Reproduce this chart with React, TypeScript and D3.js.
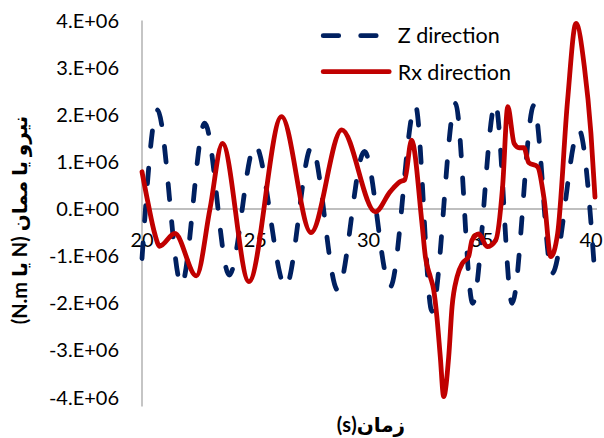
import React from "react";
import * as d3 from "d3";

const zTime = [20.0, 20.68, 21.74, 22.77, 23.85, 24.99, 26.34, 27.49, 28.64, 29.82, 30.96, 32.07, 32.8, 33.84, 34.6, 35.6, 36.34, 37.3, 38.1, 39.29, 40.0];
const zValue = [-1.05, 2.1, -1.61, 1.82, -1.4, 1.36, -1.65, 1.32, -1.72, 1.22, -1.65, 2.2, -2.17, 2.24, -2.0, 2.24, -2.0, 2.2, -1.37, 1.68, -1.44];

const rxTime = [20.0, 20.27, 20.56, 20.78, 21.45, 22.4, 23.0, 23.55, 24.72, 26.16, 27.46, 28.82, 30.3, 30.96, 31.4, 31.6, 31.9, 32.36, 32.51, 32.73, 32.88, 33.02, 33.17, 33.32, 33.54, 33.69, 33.91, 34.15, 34.42, 34.57, 34.87, 35.24, 35.62, 35.92, 36.15, 36.43, 36.65, 36.86, 37.08, 37.46, 37.76, 38.05, 38.35, 38.79, 39.16, 39.53, 39.82, 40.0];
const rxValue = [0.79, 0.12, -0.52, -0.79, -0.52, -1.42, 0.0, 1.39, -1.54, 1.96, -0.5, 1.68, -0.06, 0.37, 0.58, 0.62, 1.46, -0.3, -1.01, -1.44, -1.72, -2.29, -3.14, -3.98, -3.14, -2.07, -1.44, -1.15, -1.01, -0.66, -0.53, -0.8, -0.66, 0.47, 2.17, 1.39, 1.3, 1.3, 0.98, 0.9, 0.19, -1.01, -0.52, 2.31, 3.94, 3.02, 1.61, 0.25];

const xTicks = [20, 25, 30, 35, 40];
const xTickLabels = ["20", "25", "30", "35", "40"];
const yTicks = [4, 3, 2, 1, 0, -1, -2, -3, -4];
const yTickLabels = ["4.E+06", "3.E+06", "2.E+06", "1.E+06", "0.E+00", "-1.E+06", "-2.E+06", "-3.E+06", "-4.E+06"];
const seriesNames = ["Z direction", "Rx direction"];
const yTitle = "نیرو یا ممان (N یا N.m)";
const xTitle = "زمان(s)";

const W = 604;
const H = 438;
const FONT = "Lato, 'DejaVu Sans', sans-serif";
const BLUE = "#002060";
const RED = "#C00000";
const GRID = "#BFBFBF";

export default function App() {
  const x = d3.scaleLinear().domain([20, 40]).range([142, 595]);
  const y = d3.scaleLinear().domain([-4, 4]).range([397.5, 20.5]);

  const line = d3
    .line<[number, number]>()
    .x((d) => x(d[0]))
    .y((d) => y(d[1]))
    .curve(d3.curveMonotoneX);

  const zPts: [number, number][] = zTime.map((t, i) => [t, zValue[i]]);
  const rxPts: [number, number][] = rxTime.map((t, i) => [t, rxValue[i]]);

  const dash = "15.5 22";

  return (
    <svg
      width={W}
      height={H}
      style={{ position: "absolute", left: 0, top: 0, background: "#fff" }}
      fontFamily={FONT}
    >
      <rect x={0} y={0} width={W} height={H} fill="#fff" />
      {/* axes */}
      <line x1={x(20)} x2={x(20)} y1={y(4)} y2={y(-4) + 9} stroke={GRID} strokeWidth={1.8} />
      <line x1={x(20)} x2={x(40) + 2} y1={y(0)} y2={y(0)} stroke={GRID} strokeWidth={1.8} />

      {/* y tick labels */}
      {yTicks.map((v, i) => (
        <text key={"yt" + i} x={119} y={y(v)} dy="0.35em" textAnchor="end" fontSize={20} fill="#000">
          {yTickLabels[i]}
        </text>
      ))}
      {/* x tick labels */}
      {xTicks.map((v, i) => (
        <text
          key={"xt" + i}
          x={Math.min(x(v), W - 13)}
          y={y(0) + 38}
          textAnchor="middle"
          fontSize={20}
          fill="#000"
        >
          {xTickLabels[i]}
        </text>
      ))}

      {/* series */}
      <path
        d={line(zPts) || ""}
        fill="none"
        stroke={BLUE}
        strokeWidth={4.8}
        strokeDasharray={dash}
        strokeLinecap="round"
        strokeLinejoin="round"
      />
      <path
        d={line(rxPts) || ""}
        fill="none"
        stroke={RED}
        strokeWidth={4.8}
        strokeLinecap="round"
        strokeLinejoin="round"
      />

      {/* legend */}
      <line x1={323.2} x2={389.2} y1={35.7} y2={35.7} stroke={BLUE} strokeWidth={4.8} strokeDasharray={dash} strokeLinecap="round" />
      <text x={397.7} y={43.3} fontSize={21.5} fill="#000">{seriesNames[0]}</text>
      <line x1={323.2} x2={389.2} y1={71.7} y2={71.7} stroke={RED} strokeWidth={4.8} strokeLinecap="round" />
      <text x={397.7} y={80} fontSize={21.5} fill="#000">{seriesNames[1]}</text>

      {/* axis titles */}
      <text
        transform={`translate(27, 220) rotate(-90)`}
        textAnchor="middle"
        direction="rtl"
        fontSize={20}
        fontWeight="bold"
        fill="#000"
      >
        {yTitle}
      </text>
      <text x={371} y={432} textAnchor="middle" direction="rtl" fontSize={20} fontWeight="bold" fill="#000">
        {xTitle}
      </text>
    </svg>
  );
}
